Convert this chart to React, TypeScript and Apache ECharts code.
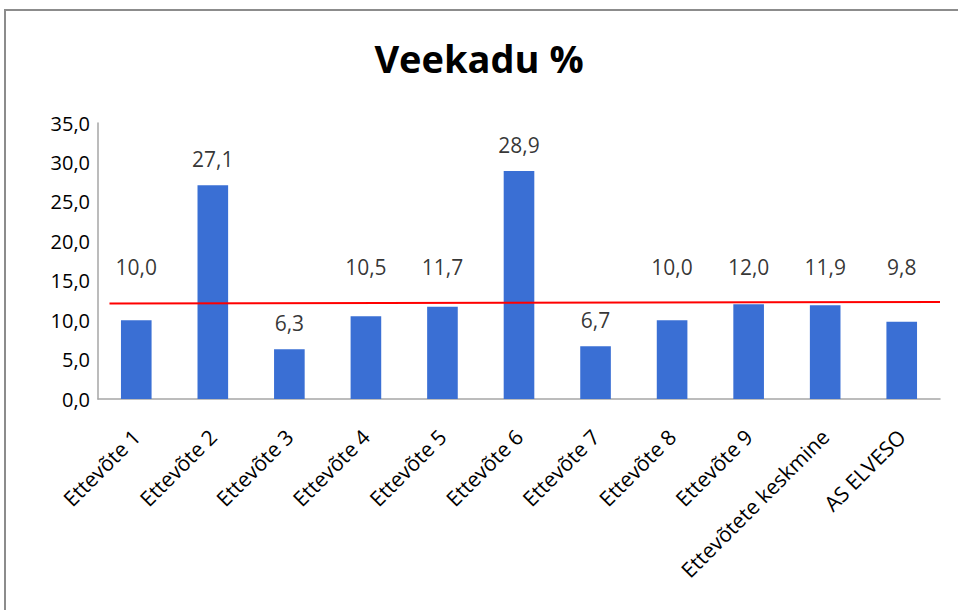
import React, { useEffect, useRef } from "react";
import * as echarts from "echarts";

const categories = [
  "Ettevõte 1", "Ettevõte 2", "Ettevõte 3", "Ettevõte 4", "Ettevõte 5", "Ettevõte 6",
  "Ettevõte 7", "Ettevõte 8", "Ettevõte 9", "Ettevõtete keskmine", "AS ELVESO",
];
const veekadu = [10.0, 27.1, 6.3, 10.5, 11.7, 28.9, 6.7, 10.0, 12.0, 11.9, 9.8];
const averageLineStart = 12.1;
const averageLineEnd = 12.3;

const fmt = (v: number) => v.toFixed(1).replace(".", ",");

export default function App() {
  const ref = useRef<HTMLDivElement>(null);
  useEffect(() => {
    document.body.style.margin = "0";
    const chart = echarts.init(ref.current!, null, { renderer: "svg" });
    const font = "Open Sans";
    // label anchor: values colliding with the average line have their label lifted above it
    const labelPts = veekadu.map((v, i) => [
      i,
      v >= 8 && v < 15 ? 16.7 : v + 3.3,
      v,
    ]);
    chart.setOption({
      animation: false,
      backgroundColor: "#ffffff",
      title: {
        text: "Veekadu %",
        left: "center",
        top: 34,
        textStyle: { fontFamily: font, fontSize: 38, fontWeight: "bold", color: "#000" },
      },
      grid: { left: 98, right: 18, top: 123, bottom: 211 },
      xAxis: [
        {
          type: "category",
          data: categories,
          axisLine: { lineStyle: { color: "#a6a6a6", width: 1.5 } },
          axisTick: { show: false },
          axisLabel: {
            rotate: 45,
            interval: 0,
            margin: 34,
            fontFamily: font,
            fontSize: 21,
            color: "#000",
          },
        },
        {
          type: "value",
          min: 0,
          max: categories.length,
          show: false,
        },
      ],
      yAxis: {
        type: "value",
        min: 0,
        max: 35,
        interval: 5,
        splitLine: { show: false },
        axisLine: { show: true, lineStyle: { color: "#a6a6a6", width: 1.5 } },
        axisTick: { show: false },
        axisLabel: {
          fontFamily: font,
          fontSize: 20,
          color: "#000",
          margin: 8,
          formatter: (v: number) => fmt(v),
        },
      },
      series: [
        {
          type: "bar",
          data: veekadu,
          barWidth: "40%",
          itemStyle: { color: "#3a6fd4" },
        },
        {
          type: "line",
          xAxisIndex: 1,
          data: [
            [0.15, averageLineStart],
            [categories.length, averageLineEnd],
          ],
          symbol: "none",
          lineStyle: { color: "#ff0000", width: 2 },
          z: 5,
        },
        {
          type: "scatter",
          data: labelPts,
          symbolSize: 0,
          label: {
            show: true,
            position: "inside",
            fontFamily: font,
            fontSize: 21,
            color: "#000",
            formatter: (p: any) => fmt(p.data[2]),
          },
          z: 6,
        },
      ],
      graphic: [
        {
          type: "rect",
          shape: { x: 5, y: 10, width: 1200, height: 1000 },
          style: { fill: "none", stroke: "#8c8c8c", lineWidth: 2 },
          silent: true,
        },
      ],
    });
    return () => chart.dispose();
  }, []);
  return <div ref={ref} style={{ width: 958, height: 610 }} />;
}
